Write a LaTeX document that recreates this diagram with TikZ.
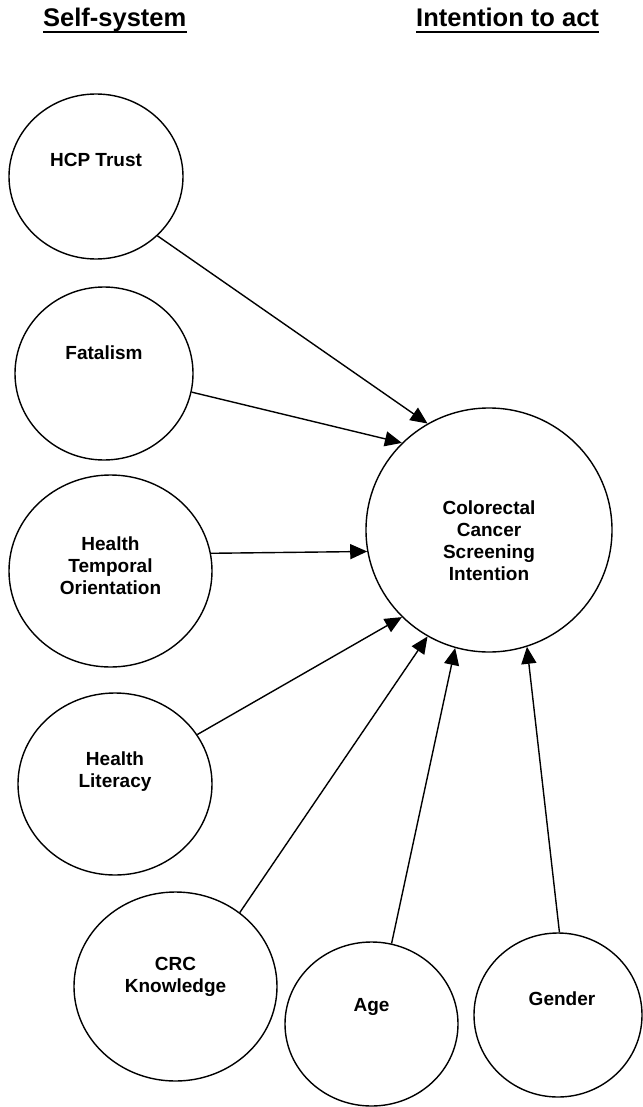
\documentclass[tikz,border=0pt]{standalone}
\usepackage{fontspec}
\setmainfont{Liberation Sans}
\usetikzlibrary{shapes.geometric,arrows.meta}
\begin{document}
\begin{tikzpicture}[x=1pt, y=-1pt,
    var/.style={draw, ellipse, line width=1.4pt, inner sep=0},
    lbl/.style={align=center, inner sep=0, font=\fontsize{19}{22}\selectfont\bfseries},
    head/.style={inner sep=0, anchor=base west, font=\fontsize{25.5}{30}\selectfont\bfseries},
    uline/.style={line width=1.5pt},
    link/.style={line width=1.4pt, -{Triangle[length=17pt, width=15pt]}}]
	\useasboundingbox (0,0) rectangle (642,1107);
	% headings
	\node[head] (selfsys) at (43,27) {Self-system};
	\node[head] (intent) at (416,27) {Intention to act};
	\draw[uline] ([yshift=-5pt]selfsys.base west) -- ([yshift=-5pt]selfsys.base east);
	\draw[uline] ([yshift=-5pt]intent.base west) -- ([yshift=-5pt]intent.base east);
	% constructs
	\node[var, minimum width=174, minimum height=165] (hcp) at (96,176.5) {};
	\node[var, minimum width=178, minimum height=173] (fat) at (104,373.5) {};
	\node[var, minimum width=203, minimum height=192] (hto) at (110.5,571) {};
	\node[var, minimum width=194, minimum height=182] (hl) at (115,784) {};
	\node[var, minimum width=203, minimum height=189] (crck) at (175.5,986.5) {};
	\node[var, minimum width=173, minimum height=164] (age) at (371.5,1024) {};
	\node[var, minimum width=168, minimum height=164] (gen) at (558,1015) {};
	\node[var, minimum width=246, minimum height=244] (csi) at (489,530) {};
	% labels
	\node[lbl] (hcp-t) at ([yshift=16.5pt]hcp.center) {HCP Trust};
	\node[lbl] (fat-t) at ([yshift=20.5pt]fat.center) {Fatalism};
	\node[lbl] (hto-t) at ([yshift=5pt]hto.center) {Health\\Temporal\\Orientation};
	\node[lbl] (hl-t) at ([yshift=12pt]hl.center) {Health\\Literacy};
	\node[lbl] (crck-t) at ([yshift=9.5pt]crck.center) {CRC\\Knowledge};
	\node[lbl] (age-t) at ([yshift=17pt]age.center) {Age};
	\node[lbl] (gen-t) at ([xshift=4pt,yshift=16pt]gen.center) {Gender};
	\node[lbl] (csi-t) at ([yshift=-11pt]csi.center) {Colorectal\\Cancer\\Screening\\Intention};
	% paths
	\draw[link] (hcp.-44.3) -- (csi.120);
	\draw[link] (fat.-12.4) -- (csi.135.3);
	\draw[link] (hto.10.6) -- (csi.190.1);
	\draw[link] (hl.31.9) -- (csi.225.3);
	\draw[link] (crck.49.6) -- (csi.240.1);
	\draw[link] (age.76) -- (csi.254.7);
	\draw[link] (gen.89.3) -- (csi.288);
\end{tikzpicture}
\end{document}
